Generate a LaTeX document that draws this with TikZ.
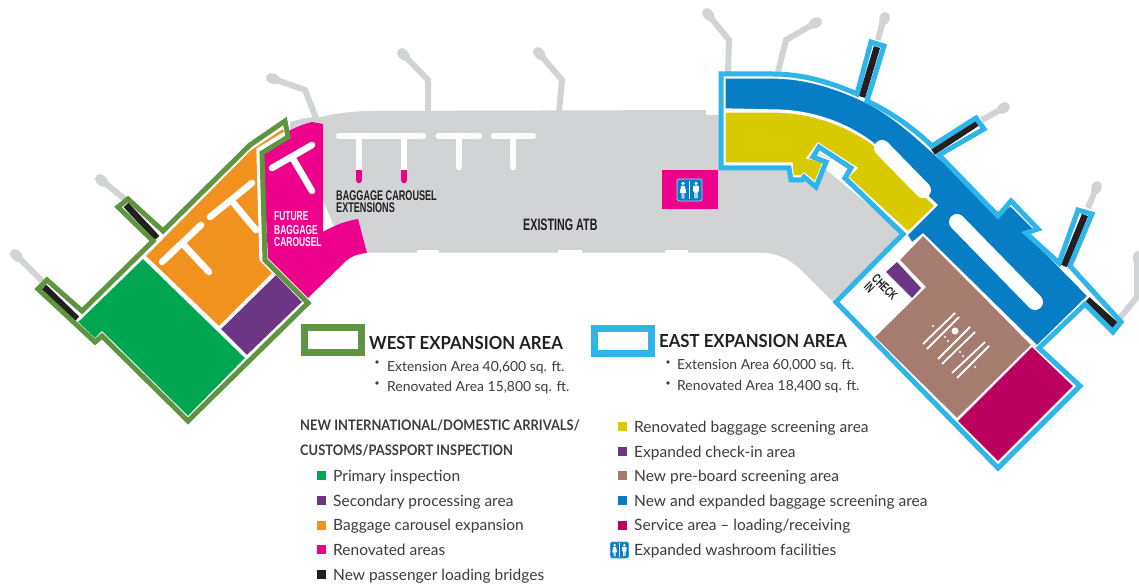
\documentclass[tikz,border=0pt]{standalone}
\usepackage{fontspec}
\setmainfont{Lato}
\newfontfamily\cond[FakeStretch=0.65]{Liberation Sans}
\newfontfamily\hd[FakeStretch=0.93]{Lato}
\newfontfamily\sh[FakeStretch=0.89]{Lato}
\definecolor{wgreen}{HTML}{5F9440}
\definecolor{eblue}{HTML}{2FB5EA}
\definecolor{igreen}{HTML}{00A651}
\definecolor{iorange}{HTML}{F1921E}
\definecolor{ipurple}{HTML}{6D3685}
\definecolor{imag}{HTML}{EC008C}
\definecolor{iblack}{HTML}{231F20}
\definecolor{igray}{HTML}{D1D3D4}
\definecolor{iblue}{HTML}{067DC4}
\definecolor{iyellow}{HTML}{D9CA00}
\definecolor{ibrown}{HTML}{A67C70}
\definecolor{icrim}{HTML}{BC0060}
\definecolor{txt}{HTML}{3C3C3E}
\tikzset{
  region/.style={fill=#1,draw=white,line width=1.3pt,line join=miter},
  bridgearm/.style={draw=igray,line width=6pt,line join=miter,line cap=butt},
  bridgehead/.style={draw=igray,line width=10pt,line cap=round},
  newbridge/.style={draw=iblack,line width=6.5pt,line cap=butt},
  carousel/.style={draw=white,line width=6.6pt,line cap=round},
  westline/.style={draw=wgreen,line width=5pt,line join=miter},
  eastline/.style={draw=eblue,line width=5pt,line join=miter},
  planlabel/.style={font=\cond\bfseries\fontsize{14}{14}\selectfont,text=iblack,inner sep=0pt,anchor=base west},
  headline/.style={font=\hd\bfseries\fontsize{18}{20}\selectfont,text=iblack,inner sep=0pt,anchor=base west},
  subhead/.style={font=\sh\bfseries\fontsize{14.5}{16}\selectfont,text=txt,inner sep=0pt,anchor=base west},
  item/.style={font=\fontsize{15.5}{17}\selectfont,text=txt,inner sep=0pt,anchor=base west},
  area/.style={font=\fontsize{13.9}{16}\selectfont,text=txt,inner sep=0pt,anchor=base west},
  swatch/.style={fill=#1,draw=none,minimum size=9pt,inner sep=0pt},
  wc/.pic={
    \fill[iblue,draw=white!70!iblue,line width=.7pt,rounded corners=1.5pt] (-12.5,-11) rectangle (12.5,11);
    \fill[white] (-.8,-9) rectangle (.8,9);
    \fill[white] (-6.5,-6.6) circle (1.8);
    \fill[white] (-8.3,-4.2) -- (-4.7,-4.2) -- (-3.2,3) -- (-5.2,3) -- (-5.2,8.6) -- (-6.1,8.6) -- (-6.1,3) -- (-6.9,3) -- (-6.9,8.6) -- (-7.8,8.6) -- (-7.8,3) -- (-9.8,3) -- cycle;
    \fill[white] (6.5,-6.6) circle (1.8);
    \fill[white,rounded corners=.6pt] (3.6,-4.3) -- (9.4,-4.3) -- (9.4,1.5) -- (8.2,1.5) -- (8.2,8.6) -- (6.8,8.6) -- (6.8,2) -- (6.2,2) -- (6.2,8.6) -- (4.8,8.6) -- (4.8,1.5) -- (3.6,1.5) -- cycle;
  }
}
\newcommand{\gbridge}[3]{%
  \draw[bridgearm] #1 -- #2 -- #3;
  \draw[bridgehead] #3 -- ($#3!4pt!#2$);}
\usetikzlibrary{calc}
\begin{document}
\begin{tikzpicture}[x=1pt,y=-1pt]
\useasboundingbox (0,0) rectangle (1139,585);
\fill[white] (0,0) rectangle (1139,585);

% ---- terminal floor
\fill[igray] (290,122) .. controls (300,119) and (308,117) .. (320,117)
  .. controls (338,113) and (355,111) .. (373,111) -- (706,110) -- (706,115) -- (760,115)
  -- (905,235) -- (832,301) -- (800,269) .. controls (788,258) and (775,252.5) .. (760,252.5)
  -- (345,252.5) -- (323,200) -- (290,135) -- cycle;
\fill[white] (417,250) rectangle (439,253);
\fill[white] (558,250) rectangle (582,253);
\fill[white] (665,250) rectangle (688,253);

% ---- existing loading bridges
\gbridge{(316,118)}{(305,90)}{(271,78)}
\gbridge{(428,111)}{(428,80)}{(402,53)}
\gbridge{(559,111)}{(562,80)}{(538,52)}
\gbridge{(728,72)}{(729,40)}{(707,13)}
\gbridge{(778,72)}{(786,40)}{(817,22)}
\draw[bridgearm] (126,200) -- (100,179); \draw[bridgehead] (100,179) -- (103,182);
\draw[bridgearm] (42,281) -- (15,254); \draw[bridgehead] (15,254) -- (18,257);
\draw[bridgearm] (878,40) -- (884,17); \draw[bridgehead] (885,17) -- (884,20);
\draw[bridgearm] (982,120) -- (1005,107); \draw[bridgehead] (1005,107) -- (1002,109);
\draw[bridgearm] (1088,208) -- (1097,186); \draw[bridgehead] (1097,186) -- (1096,189);
\draw[bridgearm] (1120,318) -- (1137,297) -- (1137,262); \draw[bridgehead] (1138,256) -- (1138,260);

% ---- renovated magenta zone (west)
\fill[imag] (289,131) .. controls (296,127) and (304,124) .. (312,122) -- (323,124) -- (323,232)
  .. controls (335,225) and (346,221) .. (358,219) -- (367,253)
  .. controls (358,254) and (352,256) .. (347,260) -- (308,298) -- (268,258) -- (263,155) -- (288,138) -- cycle;

% ---- west expansion
\fill[white] (285,121) -- (250,145) -- (163,231) -- (128,199) -- (118,207) -- (153,241) -- (82,311)
  -- (47,280) -- (38,289) -- (95,342) -- (102,336) -- (188,421) -- (308,303) -- (265,260) -- (262,153) -- (288,137) -- cycle;
\path[region=iorange] (283,128) -- (285,132) -- (257,149) -- (260,260) -- (273,273) -- (219,327) -- (145,256) -- (250,150) -- cycle;
\path[region=igreen] (143,258) -- (246,358) -- (188,417) -- (102,332) -- (95,339) -- (77,322) -- cycle;
\path[region=ipurple] (276,274) -- (303,302) -- (247,356) -- (220,329) -- cycle;
\draw[newbridge] (126,205) -- (157,238);
\draw[newbridge] (44,287) -- (77,319);
\draw[westline] (285,121) -- (250,145) -- (163,231) -- (128,199) -- (118,207) -- (153,241) -- (82,311)
  -- (47,280) -- (38,289) -- (95,342) -- (102,336) -- (188,421) -- (308,303) -- (265,260) -- (262,153) -- (288,137) -- cycle;

% ---- carousels west
\draw[carousel] (272,168) -- (312,145) (292,157) -- (312,191);
\draw[carousel] (162,262) -- (201,225) (182,243) -- (209,272);
\draw[carousel] (210,217) -- (252,183) (231,200) -- (256,230);

% ---- carousels existing
\draw[carousel,imag] (359,170) -- (359,180);
\draw[carousel,imag] (404,170) -- (404,180);
\draw[carousel] (339,136) -- (423,136);
\draw[draw=white,line width=6.6pt] (359,136) -- (359,170) (404,136) -- (404,170);
\draw[carousel] (439,136) -- (479,136) (459,136) -- (459,167);
\draw[carousel] (494,136) -- (533,136) (513,136) -- (513,167);

% ---- washroom block
\fill[imag] (662,170) rectangle (718,209);
\pic at (689.5,190) {wc};

% ---- east expansion
\fill[white] (721,74) -- (773,74) .. controls (802,74) and (830,82) .. (857,94) -- (871,42) -- (884,46) -- (867,101)
  .. controls (888,111) and (910,125) .. (932,146) -- (976,118) -- (984,129) -- (939,155) -- (998,216) -- (1011,201) -- (1038,229) -- (1026,233)
  -- (1059,263) -- (1078,210) -- (1092,214) -- (1070,266) -- (1121,322) -- (1113,332) -- (1085,304) -- (1039,348) -- (1080,386) -- (998,468)
  -- (836,302) -- (903,234) -- (845,178) -- (851,168) -- (819,147) -- (813,157) -- (826,162) -- (816,187) -- (804,177) -- (802,180) -- (791,180) -- (789,168) -- (721,168) -- cycle;
\path[region=ibrown] (923,235) -- (1032,345) -- (957,419) -- (874,337) -- (925,287) -- (899,260) -- cycle;
\fill[ipurple] (897,262) -- (921,288) -- (912,298) -- (886,272) -- cycle;
\path[region=icrim] (1032,346) -- (1074,386) -- (998,462) -- (957,421) -- cycle;
\path[region=iblue] (725,78) -- (773,78) .. controls (802,78) and (830,86) .. (857,98) .. controls (885,110) and (908,130) .. (928,148)
  -- (998,211) -- (1011,206) -- (1034,229) -- (1026,233) -- (1088,296) -- (1037,346) -- (923,234) -- (912,243) -- (907,235) -- (937,205) -- (873,143)
  .. controls (845,122) and (810,110) .. (773,110) -- (725,109) -- cycle;
\path[region=iyellow] (725,112) -- (773,112) .. controls (810,112) and (845,124) .. (874,145) -- (935,206) -- (908,232) -- (848,177) -- (857,168)
  -- (818,143) -- (807,158) -- (823,162) -- (815,182) -- (804,173) -- (801,176) -- (793,176) -- (792,163) -- (725,163) -- cycle;
\fill[white] (813,157) -- (819,147) -- (836,158) -- (826,162) -- cycle;
\draw[igray,line width=.8pt] (819,154) -- (831,159);
\draw[line cap=round,line width=16pt,white] (882,148) -- (923,190);
\draw[line cap=round,line width=16pt,white] (957,222) -- (1035,302);
\draw[newbridge] (877,47) -- (862,97);
\draw[newbridge] (977,123) -- (933,152);
\draw[newbridge] (1085,215) -- (1064,266);
\draw[newbridge,line width=7.5pt] (1087,300) -- (1115,325);
\draw[eastline] (721,74) -- (773,74) .. controls (802,74) and (830,82) .. (857,94) -- (871,42) -- (884,46) -- (867,101)
  .. controls (888,111) and (910,125) .. (932,146) -- (976,118) -- (984,129) -- (939,155) -- (998,216) -- (1011,201) -- (1038,229) -- (1026,233)
  -- (1059,263) -- (1078,210) -- (1092,214) -- (1070,266) -- (1121,322) -- (1113,332) -- (1085,304) -- (1039,348) -- (1080,386) -- (998,468)
  -- (836,302) -- (903,234) -- (845,178) -- (851,168) -- (819,147) -- (813,157) -- (826,162) -- (816,187) -- (804,177) -- (802,180) -- (791,180) -- (789,168) -- (721,168) -- cycle;

% ---- pre-board marks
\draw[white,line width=1.8pt] (923,344) -- (955,313) (927,349) -- (959,317) (938,359) -- (970,327) (942,364) -- (975,332) (952,373) -- (985,342) (957,378) -- (989,346);
\fill[white] (955,331) circle (3.5);
\foreach \p in {(933,326),(945,337),(948,341),(960,352),(963,356),(975,367)} \fill[white] \p circle (1.1);

% ---- plan labels
\node[planlabel] (bc1) at (336,201) {BAGGAGE CAROUSEL};
\node[planlabel] (bc2) at (336,213) {EXTENSIONS};
\node[planlabel,font=\cond\bfseries\fontsize{16.5}{18}\selectfont] (atb) at (523,230) {EXISTING ATB};
\node[planlabel,text=white,font=\cond\bfseries\fontsize{13}{14}\selectfont] (f1) at (274,221) {FUTURE};
\node[planlabel,text=white,font=\cond\bfseries\fontsize{13}{14}\selectfont] (f2) at (274,234) {BAGGAGE};
\node[planlabel,text=white,font=\cond\bfseries\fontsize{13}{14}\selectfont] (f3) at (274,247) {CAROUSEL};
\node[planlabel,anchor=center,rotate=-45,align=left,font=\cond\bfseries\fontsize{13}{11}\selectfont] (chk) at (881,291) {CHECK\\IN};

% ---- west legend
\draw[wgreen,line width=7pt,line join=miter] (304.5,327.5) rectangle (361,352.5);
\node[headline] (wt) at (369,349) {WEST EXPANSION AREA};
\fill[txt] (377,362) circle (1.8) (377,383) circle (1.8);
\node[area] (w1) at (387,371) {Extension Area 40,600 sq. ft.};
\node[area] (w2) at (387,391) {Renovated Area 15,800 sq. ft.};
\node[subhead] (h1) at (300,430) {NEW INTERNATIONAL/DOMESTIC ARRIVALS/};
\node[subhead] (h2) at (300,455) {CUSTOMS/PASSPORT INSPECTION};
\node[swatch=igreen] (s1) at (321.5,475) {};
\node[swatch=ipurple] (s2) at (321.5,500) {};
\node[swatch=iorange] (s3) at (321.5,525) {};
\node[swatch=imag] (s4) at (321.5,549) {};
\node[swatch=iblack] (s5) at (321.5,574) {};
\node[item] (t1) at (333,481) {Primary inspection};
\node[item] (t2) at (333,506) {Secondary processing area};
\node[item] (t3) at (333,530) {Baggage carousel expansion};
\node[item] (t4) at (333,555) {Renovated areas};
\node[item] (t5) at (333,580) {New passenger loading bridges};

% ---- east legend
\draw[eblue,line width=7pt,line join=miter] (594.5,328) rectangle (651,353);
\node[headline] (et) at (659,347) {EAST EXPANSION AREA};
\fill[txt] (668,362) circle (1.8) (668,383) circle (1.8);
\node[area] (e1) at (677,369) {Extension Area 60,000 sq. ft.};
\node[area] (e2) at (677,390) {Renovated Area 18,400 sq. ft.};
\node[swatch=iyellow] (u1) at (622.5,426) {};
\node[swatch=ipurple] (u2) at (622.5,451) {};
\node[swatch=ibrown] (u3) at (622.5,475) {};
\node[swatch=iblue] (u4) at (622.5,500) {};
\node[swatch=icrim] (u5) at (622.5,525) {};
\pic[scale=.75] at (619.5,550) {wc};
\node[item] (v1) at (634,432) {Renovated baggage screening area};
\node[item] (v2) at (634,457) {Expanded check-in area};
\node[item] (v3) at (634,481) {New pre-board screening area};
\node[item] (v4) at (634,506) {New and expanded baggage screening area};
\node[item] (v5) at (634,530) {Service area -- loading/receiving};
\node[item] (v6) at (634,555) {Expanded washroom facilities};
\end{tikzpicture}
\end{document}
